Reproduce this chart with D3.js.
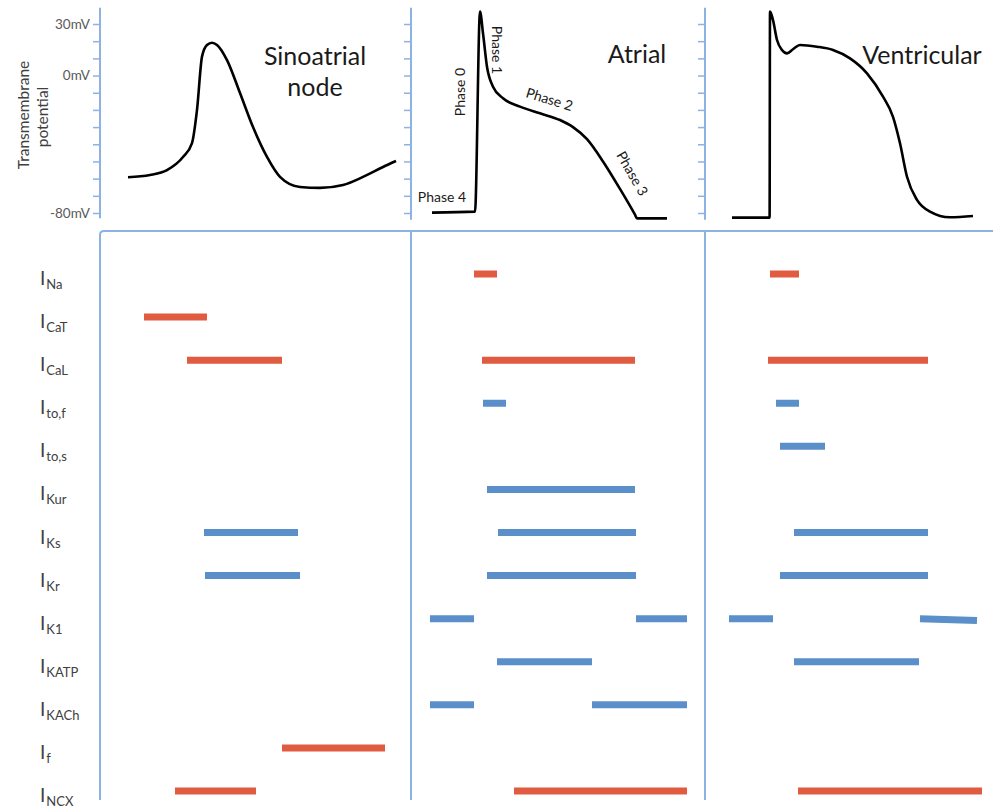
<!DOCTYPE html>
<html>
<head>
<meta charset="utf-8">
<script src="https://cdn.jsdelivr.net/npm/d3@7"></script>
<style>
  body { margin: 0; background: #fff; }
  svg { display: block; font-family: Lato, "Open Sans", sans-serif; }
</style>
</head>
<body>
<div id="chart"></div>
<script>
// ion currents, top to bottom
const currents = ["Na", "CaT", "CaL", "to,f", "to,s", "Kur", "Ks", "Kr", "K1", "KATP", "KACh", "f", "NCX"];

// voltage axis (mV)
const mvTicks = [30, 20, 10, 0, -10, -20, -30, -40, -50, -60, -70, -80];
const mvLabelled = [30, 0, -80];

// action potentials: [time ms, mV]
const sanCurve = [
  [28, -59.2], [50, -57.9], [67, -55], [83, -47.4], [92, -39.3], [97, -20],
  [102, 11], [107, 17.8], [112, 19.1], [117, 17.8], [127, 9], [140, -10.2],
  [153, -30], [167, -47.4], [180, -59], [200, -64.9], [220, -65.4],
  [243, -63.7], [263, -59], [283, -53.2], [296, -49.7]
];
const atrialCurve = [
  [21, -79.8], [64, -79.2], [69, 37.2], [72, 24.6], [76, 5.1], [82, -6.5],
  [92, -13.2], [109, -18.1], [129, -22], [149, -25.9], [162, -30],
  [176, -37], [192, -50], [209, -66], [224, -81], [226, -83.1], [256, -83.1]
];
const ventricularCurve = [
  [27, -82.7], [64.6, -82.7], [65, 37.2], [68, 32.3], [72, 20.7], [77, 14.9],
  [82, 12.9], [88, 15.3], [95, 17.8], [112, 16.8], [128, 14.9], [145, 10],
  [162, 1.3], [178, -12.3], [188, -24], [195, -39.4], [202, -58.9],
  [212, -72.4], [225, -79.2], [245, -82.5], [268, -81.7]
];

// current activity windows: [current, start ms, end ms, direction, tilt (rows)]
const sanBars = [
  ["CaT", 44, 107, "in", 0],
  ["CaL", 87, 182, "in", 0],
  ["Ks", 104, 198, "out", 0],
  ["Kr", 105, 200, "out", 0],
  ["f", 182, 285, "in", 0],
  ["NCX", 75, 156, "in", 0]
];
const atrialBars = [
  ["Na", 63, 86, "in", 0],
  ["CaL", 71, 224, "in", 0],
  ["to,f", 72, 95, "out", 0],
  ["Kur", 76, 224, "out", 0],
  ["Ks", 87, 225, "out", 0],
  ["Kr", 76, 225, "out", 0],
  ["K1", 19, 63, "out", 0],
  ["K1", 225, 276, "out", 0],
  ["KATP", 86, 181, "out", 0],
  ["KACh", 19, 63, "out", 0],
  ["KACh", 181, 276, "out", 0],
  ["NCX", 103, 276, "in", 0]
];
const ventricularBars = [
  ["Na", 65, 94, "in", 0],
  ["CaL", 63, 223, "in", 0],
  ["to,f", 71, 94, "out", 0],
  ["to,s", 75, 120, "out", 0],
  ["Ks", 89, 223, "out", 0],
  ["Kr", 75, 223, "out", 0],
  ["K1", 24, 68, "out", 0],
  ["K1", 215, 272, "out", 0.045],
  ["KATP", 89, 214, "out", 0],
  ["NCX", 93, 277, "in", 0]
];

const panelTitles = [["Sinoatrial", "node"], ["Atrial"], ["Ventricular"]];
const phaseLabels = ["Phase 0", "Phase 1", "Phase 2", "Phase 3", "Phase 4"];

// layout
const W = 993, H = 812;
const lineColor = "#8DB3E2";
const colors = { in: "#E15B41", out: "#5B8FC9" };

const panels = [
  { left: 100, right: 411, curve: sanCurve, bars: sanBars, titleX: 315, titleY: 65 },
  { left: 411, right: 705, curve: atrialCurve, bars: atrialBars, titleX: 637, titleY: 63 },
  { left: 705, right: 993, curve: ventricularCurve, bars: ventricularBars, titleX: 922, titleY: 64 }
];

const svg = d3.select("#chart").append("svg")
  .attr("width", W)
  .attr("height", H);

var y = d3.scaleLinear().domain([-80, 30]).range([213, 24]);
var rows = d3.scalePoint().domain(currents).range([274, 791]);

var line = d3.line()
  .x(d => d[0])
  .y(d => d[1])
  .curve(d3.curveMonotoneX);

panels.forEach(function(p, i) {
  var x = d3.scaleLinear().domain([0, 300]).range([p.left, p.left + 300]);

  // voltage axis
  var axis = d3.axisLeft(y)
    .tickValues(mvTicks)
    .tickSize(7)
    .tickSizeOuter(0)
    .tickPadding(3)
    .tickFormat(d => (i === 0 && mvLabelled.includes(d)) ? d + "mV" : "");
  var g = svg.append("g")
    .attr("transform", "translate(" + p.left + ",0)")
    .call(axis);
  g.select(".domain").remove();
  g.selectAll(".tick line").attr("stroke", lineColor).attr("stroke-width", 1.5);
  g.selectAll(".tick text")
    .attr("fill", "#595959")
    .style("font-size", "13.5px")
    .style("font-family", "Lato, sans-serif");
  g.append("line")
    .attr("x1", 0).attr("x2", 0)
    .attr("y1", y(39.5)).attr("y2", y(i === 0 ? -83 : -84))
    .attr("stroke", lineColor)
    .attr("stroke-width", 2);

  // action potential
  svg.append("path")
    .datum(p.curve.map(d => [x(d[0]), y(d[1])]))
    .attr("d", line)
    .attr("fill", "none")
    .attr("stroke", "#000")
    .attr("stroke-width", 2.6)
    .attr("stroke-linejoin", "round");

  // title
  var t = svg.append("text")
    .attr("x", p.titleX)
    .attr("y", p.titleY)
    .attr("text-anchor", "middle")
    .attr("fill", "#1a1a1a")
    .style("font-size", "25px");
  panelTitles[i].forEach(function(s, k) {
    t.append("tspan").attr("x", p.titleX).attr("dy", k === 0 ? 0 : 31).text(s);
  });

  // current bars
  var step = rows.step();
  svg.selectAll(null)
    .data(p.bars)
    .enter()
    .append("line")
    .attr("x1", d => x(d[1]))
    .attr("x2", d => x(d[2]))
    .attr("y1", d => rows(d[0]))
    .attr("y2", d => rows(d[0]) + d[4] * step)
    .attr("stroke", d => colors[d[3]])
    .attr("stroke-width", 7);
});

// frame for the current panel
var frameTop = 231, frameBottom = 800;
svg.append("path")
  .attr("d", "M100," + frameBottom + " L100," + (frameTop + 4) +
             " Q100," + frameTop + " 104," + frameTop + " L" + W + "," + frameTop)
  .attr("fill", "none")
  .attr("stroke", lineColor)
  .attr("stroke-width", 2);
[411, 705].forEach(function(xx) {
  svg.append("line")
    .attr("x1", xx).attr("x2", xx)
    .attr("y1", frameTop).attr("y2", frameBottom)
    .attr("stroke", lineColor)
    .attr("stroke-width", 2);
});

// y axis title
svg.append("text")
  .attr("transform", "translate(29,115) rotate(-90)")
  .attr("text-anchor", "middle")
  .attr("fill", "#404040")
  .style("font-size", "15.5px")
  .text("Transmembrane");
svg.append("text")
  .attr("transform", "translate(48,117) rotate(-90)")
  .attr("text-anchor", "middle")
  .attr("fill", "#404040")
  .style("font-size", "15.5px")
  .text("potential");

// phase labels on the atrial trace
var phasePos = [
  [465, 92, -90], [492, 50, 90], [548, 104, 17], [628, 176, 60], [442, 202, 0]
];
svg.selectAll(null)
  .data(phaseLabels)
  .enter()
  .append("text")
  .attr("transform", (d, k) => "translate(" + phasePos[k][0] + "," + phasePos[k][1] + ") rotate(" + phasePos[k][2] + ")")
  .attr("text-anchor", "middle")
  .attr("fill", "#1a1a1a")
  .style("font-size", "14px")
  .text(d => d);

// row labels: I with subscript
var labels = svg.selectAll(null)
  .data(currents)
  .enter()
  .append("text")
  .attr("x", 40)
  .attr("y", d => rows(d) + 11)
  .attr("fill", "#404040");
labels.append("tspan").style("font-size", "19px").text("I");
labels.append("tspan").attr("dx", 1).attr("dy", 4).style("font-size", "13px").text(d => d);
</script>
</body>
</html>
